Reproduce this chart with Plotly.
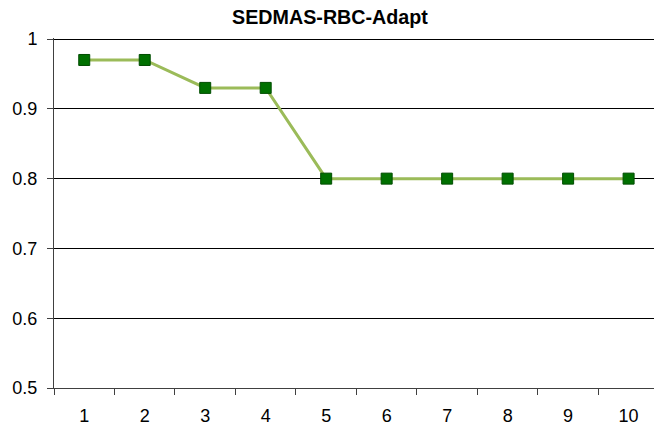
import plotly.graph_objects as go

categories = ["1", "2", "3", "4", "5", "6", "7", "8", "9", "10"]
values = [0.97, 0.97, 0.93, 0.93, 0.80, 0.80, 0.80, 0.80, 0.80, 0.80]
y_ticks = [0.5, 0.6, 0.7, 0.8, 0.9, 1.0]
y_tick_labels = ["0.5", "0.6", "0.7", "0.8", "0.9", "1"]
title_text = "SEDMAS-RBC-Adapt"

fig = go.Figure()
fig.add_trace(go.Scatter(
    x=categories, y=values, mode="lines+markers",
    line=dict(color="#9BBB59", width=3),
    marker=dict(symbol="square", size=11, color="#007000",
                line=dict(color="#004d00", width=1)),
    cliponaxis=False,
))

fig.update_layout(
    width=654, height=426,
    margin=dict(l=54, r=0, t=38, b=38, autoexpand=False),
    paper_bgcolor="white", plot_bgcolor="white",
    showlegend=False,
    font=dict(family="Arial, Liberation Sans, sans-serif", size=18, color="black"),
    title=dict(text="<b>" + title_text + "</b>", x=330 / 654, xanchor="center",
               y=1 - 17 / 426, yanchor="middle",
               font=dict(size=19.7, color="black")),
)
fig.update_xaxes(
    type="category", range=[-0.5, 9.42], automargin=False,
    tickson="boundaries", ticks="outside", ticklen=6, tickcolor="#404040",
    ticklabelstandoff=11,
    showline=True, linecolor="#404040", linewidth=1,
    showgrid=False, zeroline=False,
    tickfont=dict(size=18),
)
fig.update_yaxes(
    range=[0.5, 1.0015], automargin=False,
    tickmode="array", tickvals=y_ticks, ticktext=y_tick_labels,
    ticks="outside", ticklen=6, tickcolor="#404040",
    ticklabelstandoff=6,
    showline=True, linecolor="#404040", linewidth=1,
    showgrid=True, gridcolor="#000000", gridwidth=1,
    zeroline=False, tickfont=dict(size=18),
)

fig.write_html(
    "out.html",
    config={"displayModeBar": False},
    post_script="document.body.style.margin='0';document.body.style.overflow='hidden';",
)
